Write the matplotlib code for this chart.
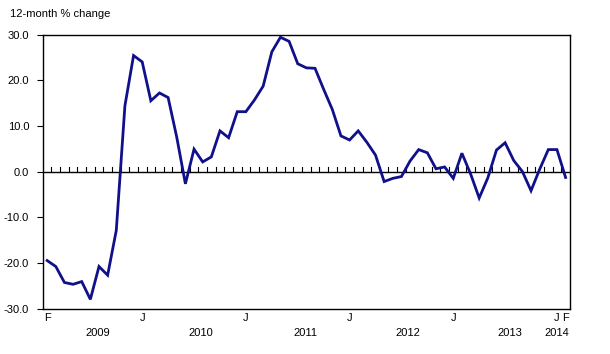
import matplotlib
matplotlib.use("Agg")
import matplotlib.pyplot as plt
import matplotlib.transforms as mtransforms

plt.rcParams['font.family'] = ['Liberation Sans', 'DejaVu Sans']

# Monthly data, Feb 2009 .. Feb 2014 (12-month % change)
months = ["2009-02", "2009-03", "2009-04", "2009-05", "2009-06", "2009-07", "2009-08", "2009-09",
          "2009-10", "2009-11", "2009-12",
          "2010-01", "2010-02", "2010-03", "2010-04", "2010-05", "2010-06", "2010-07", "2010-08",
          "2010-09", "2010-10", "2010-11", "2010-12",
          "2011-01", "2011-02", "2011-03", "2011-04", "2011-05", "2011-06", "2011-07", "2011-08",
          "2011-09", "2011-10", "2011-11", "2011-12",
          "2012-01", "2012-02", "2012-03", "2012-04", "2012-05", "2012-06", "2012-07", "2012-08",
          "2012-09", "2012-10", "2012-11", "2012-12",
          "2013-01", "2013-02", "2013-03", "2013-04", "2013-05", "2013-06", "2013-07", "2013-08",
          "2013-09", "2013-10", "2013-11", "2013-12",
          "2014-01", "2014-02"]
values = [-19.5, -20.8, -24.3, -24.7, -24.1, -28.0, -20.8, -22.7, -12.9, 14.4, 25.4,
          24.0, 15.5, 17.2, 16.2, 7.5, -2.7, 4.9, 2.1, 3.2, 8.9, 7.4, 13.1,
          13.1, 15.7, 18.7, 26.2, 29.4, 28.5, 23.6, 22.7, 22.6, 18.0, 13.6, 7.8,
          6.9, 8.9, 6.4, 3.6, -2.2, -1.5, -1.1, 2.3, 4.8, 4.1, 0.6, 1.0,
          -1.5, 4.0, -0.5, -5.8, -1.4, 4.7, 6.3, 2.4, 0.0, -4.2, 0.5, 4.8,
          4.8, -1.3]

month_letters = ["F", "J", "J", "J", "J", "J", "F"]
month_label_months = ["2009-02", "2010-01", "2011-01", "2012-01", "2013-01", "2014-01", "2014-02"]
year_labels = ["2009", "2010", "2011", "2012", "2013", "2014"]
year_label_x = [5.8, 17.8, 29.9, 41.8, 53.5, 59.0]  # position in month index units

y_ticks = [-30.0, -20.0, -10.0, 0.0, 10.0, 20.0, 30.0]

x = list(range(len(months)))

fig = plt.figure(figsize=(6.10, 3.54), dpi=100)
ax = fig.add_axes([0.0705, 0.1285, 0.8635, 0.774])

ax.plot(x, values, color='#10108a', linewidth=2.0, solid_joinstyle='miter', zorder=3)

ax.set_xlim(-0.48, len(months) - 1 + 0.48)
ax.set_ylim(-30, 30)

# zero line with monthly ticks
ax.axhline(0, color='black', linewidth=1.0, zorder=2)
for i in range(len(months) - 1):
    ax.plot([i + 0.5, i + 0.5], [0, 0.95], color='black', linewidth=0.8, zorder=2)

ax.set_yticks(y_ticks)
ax.set_yticklabels([f"{v:.1f}" for v in y_ticks], fontsize=8)
ax.tick_params(axis='y', direction='out', length=4, width=0.8, pad=6)

pos = [months.index(m) for m in month_label_months]
ax.set_xticks(pos)
ax.set_xticklabels(month_letters, fontsize=8)
ax.tick_params(axis='x', length=0, pad=3)

trans = mtransforms.blended_transform_factory(ax.transData, ax.transAxes)
for lab, xp in zip(year_labels, year_label_x):
    ax.text(xp, -0.088, lab, transform=trans, ha='center', va='center', fontsize=8)

for s in ax.spines.values():
    s.set_linewidth(1.0)
    s.set_color('black')

fig.text(10 / 610, 1 - 14 / 354, "12-month % change", ha='left', va='center', fontsize=8)

fig.savefig("out.png", dpi=100)
